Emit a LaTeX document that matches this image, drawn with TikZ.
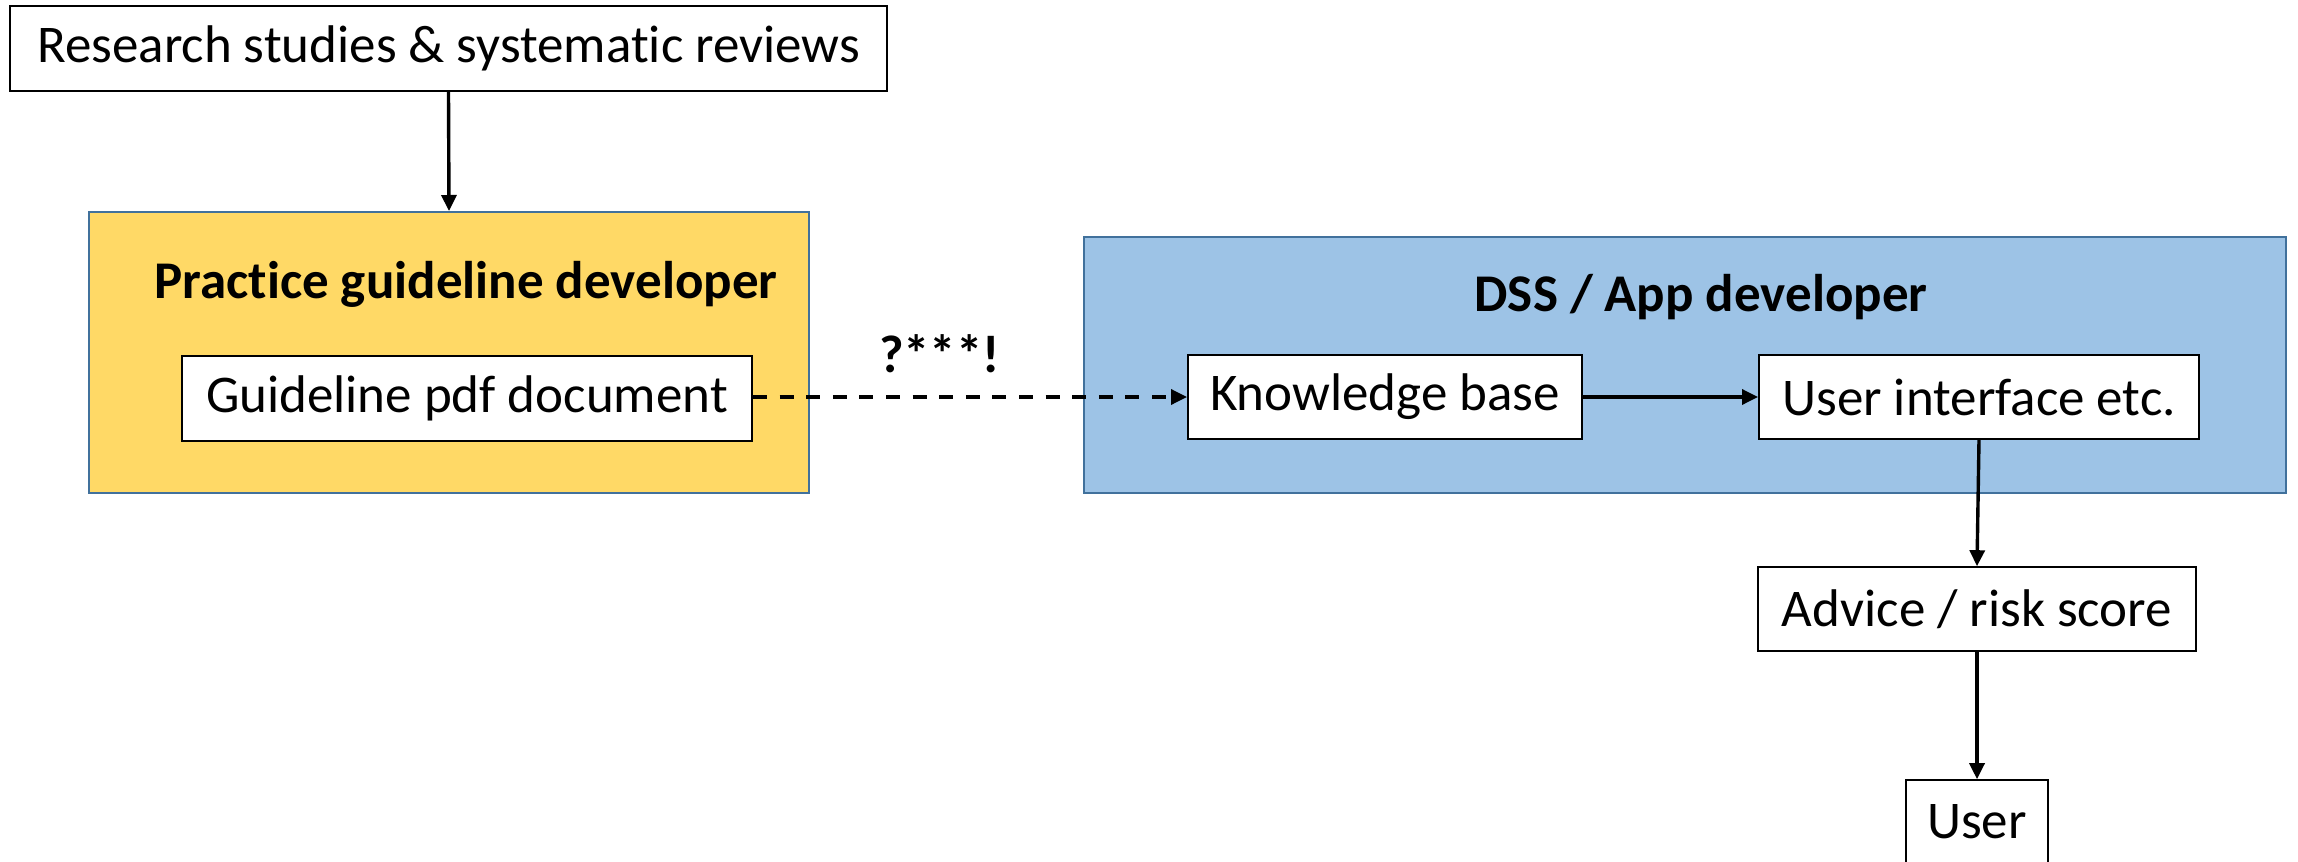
\documentclass[tikz,border=0pt]{standalone}
\usepackage{fontspec}
\setmainfont{Carlito}[Ligatures={NoCommon}]
\usetikzlibrary{arrows.meta}
\definecolor{guideyellow}{HTML}{FFD966}
\definecolor{appblue}{HTML}{9DC3E6}
\definecolor{frameblue}{HTML}{41719C}
\begin{document}
\begin{tikzpicture}[x=0.5pt,y=-0.5pt,
  every node/.style={font=\fontsize{26.5}{31}\selectfont, inner sep=0pt},
  whitebox/.style={draw=black, fill=white, line width=1pt, minimum height=42pt},
  group/.style={draw=frameblue, line width=1pt},
  heading/.style={font=\fontsize{26.5}{31}\selectfont\bfseries, anchor=base},
  arr/.style={-{Triangle[length=8pt,width=7.5pt]}, line width=1.7pt},
  dashedarr/.style={arr, dash pattern=on 7pt off 6.3pt}
]
\useasboundingbox (0,0) rectangle (2298,862);

% source of evidence
\node[whitebox, minimum width=438.5pt, minimum height=42.5pt] (research) at (448.5,48.5)
  {Research studies \& systematic reviews};

% guideline developer group
\node[group, fill=guideyellow, minimum width=360pt, minimum height=140.5pt] (pgd) at (449,352.5) {};
\node[heading] (ptitle) at (466,298) {Practice guideline developer};
\node[whitebox, minimum width=285pt, minimum height=42.5pt] (guide) at (467,398.5) {Guideline pdf document};

% app developer group
\node[group, fill=appblue, minimum width=601pt, minimum height=128pt] (dss) at (1685,365) {};
\node[heading] (dtitle) at (1701,311) {DSS / App developer};
\node[whitebox, minimum width=197pt] (kb) at (1385,397) {Knowledge base};
\node[whitebox, minimum width=220pt] (ui) at (1979,397) {User interface etc.};

% outputs
\node[whitebox, line width=0.8pt, minimum width=219pt] (advice) at (1977,609) {Advice / risk score};
\node[whitebox, line width=0.8pt, minimum width=71pt] (user) at (1977,822) {User};

% gap label
\node[heading] (gap) at (939.5,372) {?***!};

% connectors
\draw[arr] (research.south) -- (pgd.north);
\draw[dashedarr] (guide.east |- kb.west) -- (kb.west);
\draw[arr] (kb.east) -- (ui.west);
\draw[arr] (ui.south) -- (advice.north);
\draw[arr] (advice.south) -- (user.north);
\end{tikzpicture}
\end{document}
